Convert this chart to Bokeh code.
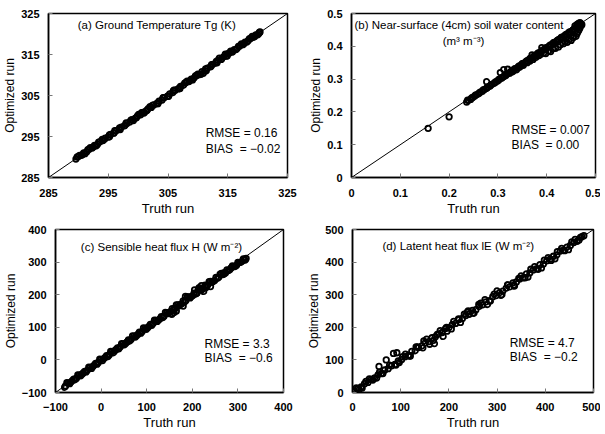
from bokeh.plotting import figure
from bokeh.layouts import column, row
from bokeh.models import Range1d, FixedTicker, CustomJSTickFormatter, Label
from bokeh.embed import file_html
from bokeh.resources import INLINE

FONT = "Liberation Sans"

# ---------------- data ----------------
# (a) Ground temperature Tg (K)
ticks_a = [285, 295, 305, 315, 325]
diag_a = [285, 325]
truth_a = [289.6, 290.0, 290.5, 290.9, 291.4, 291.8, 292.3, 292.7, 293.2, 293.6, 294.1, 294.5,
           295.0, 295.4, 295.9, 296.3, 296.8, 297.2, 297.7, 298.1, 298.6, 299.0, 299.5, 299.9,
           300.4, 300.8, 301.3, 301.7, 302.2, 302.6, 303.1, 303.5, 304.0, 304.4, 304.9, 305.3,
           305.8, 306.2, 306.7, 307.1, 307.6, 308.0, 308.5, 308.9, 309.4, 309.8, 310.3, 310.7,
           311.2, 311.6, 312.1, 312.5, 313.0, 313.4, 313.9, 314.3, 314.8, 315.2, 315.7, 316.1,
           316.6, 317.0, 317.5, 317.9, 318.4, 318.8, 319.3, 319.7, 320.2, 320.4,
           290.2, 291.1, 292.0, 293.0, 294.0, 295.2, 296.1, 297.0, 298.0, 299.2, 300.1, 301.0,
           302.0, 303.3, 304.2, 305.1, 306.0, 307.0, 308.2, 309.1, 310.0, 310.9, 311.4, 312.3,
           313.2, 313.6, 314.6, 314.9, 315.5, 316.4, 317.3, 318.2, 319.1, 320.0,
           289.8, 290.7, 291.6, 292.5, 293.4, 294.3, 295.2, 296.0, 296.9, 297.8, 298.8, 299.7,
           300.6, 301.5, 302.4, 303.3, 304.2, 305.0, 305.9, 306.9, 307.8, 308.7, 309.6, 310.5,
           311.3, 312.2, 313.1, 314.0, 314.9, 315.8, 316.8, 317.7, 318.6, 319.5, 320.3]
opt_a = [289.5, 290.1, 290.4, 291.0, 291.3, 291.9, 292.2, 292.8, 293.1, 293.7, 294.0, 294.6,
         294.9, 295.5, 295.8, 296.4, 296.7, 297.3, 297.6, 298.2, 298.5, 299.1, 299.4, 300.0,
         300.3, 300.9, 301.2, 301.8, 302.1, 302.7, 303.0, 303.6, 303.9, 304.5, 304.8, 305.4,
         305.7, 306.3, 306.6, 307.2, 307.5, 308.2, 308.4, 309.0, 309.3, 309.9, 310.1, 310.8,
         311.0, 311.7, 312.0, 312.6, 312.9, 313.6, 313.8, 314.4, 314.7, 315.3, 315.6, 316.2,
         316.5, 317.1, 317.4, 318.0, 318.3, 318.9, 319.2, 319.8, 320.1, 320.5,
         290.4, 290.8, 292.3, 292.7, 294.3, 294.9, 296.4, 296.7, 298.3, 298.9, 300.4, 300.7,
         302.3, 303.0, 304.5, 304.8, 306.3, 306.7, 308.5, 308.8, 310.2, 310.4, 311.0, 312.5,
         313.0, 314.1, 315.1, 314.6, 315.8, 316.2, 317.6, 318.0, 319.4, 319.8,
         290.0, 290.6, 291.8, 292.4, 293.6, 294.2, 295.4, 295.9, 297.1, 297.7, 299.0, 299.6,
         300.8, 301.4, 302.6, 303.2, 304.4, 304.9, 306.1, 306.8, 308.0, 308.6, 309.8, 310.2,
         311.5, 312.1, 313.3, 314.0, 315.1, 315.7, 317.0, 317.6, 318.8, 319.4, 320.4]

# (b) Near-surface soil water content (m3 m-3)
ticks_b = [0, 0.1, 0.2, 0.3, 0.4, 0.5]
diag_b = [0, 0.5]
truth_b = [0.236, 0.240, 0.244, 0.248, 0.252, 0.256, 0.260, 0.264, 0.268, 0.272, 0.276, 0.280,
           0.284, 0.288, 0.292, 0.296, 0.300, 0.304, 0.308, 0.312, 0.316, 0.320, 0.324, 0.328,
           0.332, 0.336, 0.340, 0.344, 0.348, 0.352, 0.356, 0.360, 0.364, 0.368, 0.372, 0.376,
           0.380, 0.384, 0.388, 0.392, 0.396, 0.400, 0.404, 0.408, 0.412, 0.416, 0.420, 0.424,
           0.428, 0.432, 0.436, 0.440, 0.444, 0.448, 0.452, 0.456, 0.460, 0.464, 0.468,
           0.330, 0.338, 0.345, 0.352, 0.360, 0.366, 0.372, 0.378, 0.384, 0.388, 0.394, 0.398,
           0.404, 0.408, 0.412, 0.418, 0.424, 0.428, 0.434, 0.438, 0.442, 0.446, 0.450, 0.454,
           0.456, 0.460, 0.462, 0.464, 0.466, 0.468, 0.470, 0.470, 0.466, 0.462, 0.458,
           0.238, 0.246, 0.254, 0.262, 0.270, 0.278, 0.286, 0.294, 0.302, 0.310, 0.318, 0.326,
           0.334, 0.342, 0.350, 0.358, 0.366, 0.374, 0.382, 0.390, 0.398, 0.406, 0.414, 0.422,
           0.430, 0.438, 0.446, 0.454, 0.462, 0.470, 0.468, 0.472, 0.464,
           0.305, 0.312, 0.320, 0.370, 0.390,
           0.157, 0.200, 0.277]
opt_b = [0.230, 0.235, 0.238, 0.244, 0.247, 0.252, 0.255, 0.260, 0.263, 0.268, 0.271, 0.276,
         0.279, 0.284, 0.287, 0.292, 0.295, 0.300, 0.303, 0.308, 0.311, 0.316, 0.318, 0.324,
         0.327, 0.332, 0.334, 0.340, 0.343, 0.348, 0.350, 0.356, 0.359, 0.364, 0.366, 0.372,
         0.375, 0.380, 0.383, 0.388, 0.391, 0.396, 0.399, 0.404, 0.407, 0.412, 0.415, 0.420,
         0.423, 0.428, 0.431, 0.436, 0.439, 0.444, 0.447, 0.452, 0.456, 0.461, 0.466,
         0.322, 0.328, 0.336, 0.342, 0.350, 0.355, 0.360, 0.366, 0.372, 0.375, 0.380, 0.378,
         0.386, 0.384, 0.392, 0.394, 0.398, 0.405, 0.408, 0.414, 0.412, 0.420, 0.418, 0.426,
         0.432, 0.430, 0.438, 0.444, 0.450, 0.456, 0.462, 0.468, 0.470, 0.466, 0.462,
         0.236, 0.242, 0.251, 0.258, 0.267, 0.274, 0.283, 0.290, 0.299, 0.306, 0.315, 0.322,
         0.331, 0.338, 0.347, 0.354, 0.363, 0.370, 0.379, 0.386, 0.395, 0.402, 0.411, 0.418,
         0.427, 0.434, 0.443, 0.450, 0.460, 0.470, 0.472, 0.466, 0.468,
         0.320, 0.329, 0.330, 0.374, 0.396,
         0.150, 0.185, 0.292]

# (c) Sensible heat flux H (W m-2)
ticks_c = [-100, 0, 100, 200, 300, 400]
diag_c = [-100, 400]
truth_c = [-78, -72, -66, -60, -54, -48, -42, -36, -30, -24, -18, -12, -6, 0, 6, 12, 18, 24,
           30, 36, 42, 48, 54, 60, 66, 72, 78, 84, 90, 96, 102, 108, 114, 120, 126, 132, 138,
           144, 150, 156, 162, 168, 174, 180, 186, 192, 198, 204, 210, 216, 222, 228, 234, 240,
           246, 252, 258, 264, 270, 276, 282, 288, 294, 300, 306, 312, 318,
           -75, -63, -51, -39, -27, -15, -3, 9, 21, 33, 45, 57, 69, 81, 93, 105, 117, 129, 141,
           153, 165, 177, 189, 201, 213, 225, 237, 249, 261, 273, 285, 297, 309, 316,
           -80, -69, -57, -45, -33, -21, -9, 3, 15, 27, 39, 51, 63, 75, 87, 99, 111, 123, 135,
           147, 159, 171, 183, 195, 207, 219, 231, 243, 255, 267, 279, 291, 303, 314,
           155, 160, 165, 180, 205, 210, 215, 220, 225, 230, 240, 185, 270]
opt_c = [-80, -71, -68, -59, -56, -47, -44, -35, -32, -23, -20, -11, -8, 1, 4, 13, 16, 25,
         28, 37, 40, 49, 51, 61, 63, 73, 75, 85, 87, 97, 99, 109, 111, 121, 122, 133, 134,
         145, 146, 157, 158, 169, 170, 181, 182, 193, 194, 205, 205, 217, 217, 229, 229, 241,
         241, 253, 253, 265, 264, 276, 276, 288, 287, 299, 299, 310, 311,
         -70, -64, -46, -40, -22, -16, 2, 8, 26, 32, 50, 55, 74, 79, 98, 103, 122, 126, 146,
         149, 169, 172, 193, 197, 216, 219, 240, 243, 263, 267, 282, 290, 302, 306,
         -84, -73, -61, -49, -37, -26, -13, -2, 10, 22, 34, 46, 58, 70, 82, 94, 106, 118, 130,
         142, 153, 166, 178, 190, 202, 214, 226, 238, 250, 262, 274, 286, 298, 308,
         140, 145, 150, 165, 215, 205, 222, 228, 210, 222, 225, 195, 268]

# (d) Latent heat flux lE (W m-2)
ticks_d = [0, 100, 200, 300, 400, 500]
diag_d = [0, 500]
truth_d = [4, 11, 18, 25, 32, 39, 46, 53, 60, 67, 74, 81, 88, 95, 102, 109, 116, 123, 130, 137,
           144, 151, 158, 165, 172, 179, 186, 193, 200, 207, 214, 221, 228, 235, 242, 249, 256,
           263, 270, 277, 284, 291, 298, 305, 312, 319, 326, 333, 340, 347, 354, 361, 368, 375,
           382, 389, 396, 403, 410, 417, 424, 431, 438, 445, 452, 459, 466, 473, 480,
           8, 20, 35, 50, 55, 70, 85, 92, 97, 110, 120, 135, 148, 160, 170, 176, 188, 195, 205,
           220, 232, 240, 250, 262, 275, 286, 300, 310, 322, 335, 345, 358, 370, 385, 398, 412,
           425, 440, 455, 470,
           2, 14, 28, 42, 56, 63, 77, 90, 104, 118, 132, 146, 154, 168, 182, 196, 210, 224, 238,
           252, 266, 280, 294, 308, 322, 336, 350, 364, 378, 392, 406, 420, 434, 448, 462, 476]
opt_d = [2, 12, 17, 27, 31, 40, 45, 54, 58, 69, 73, 82, 86, 97, 101, 110, 114, 126, 128, 138,
         143, 152, 156, 168, 171, 180, 184, 196, 199, 208, 212, 224, 227, 236, 240, 252, 254,
         264, 269, 278, 282, 294, 297, 306, 311, 320, 324, 336, 339, 348, 352, 364, 367, 376,
         380, 392, 394, 404, 409, 418, 422, 434, 437, 446, 451, 460, 464, 476, 481,
         14, 14, 42, 44, 80, 100, 120, 122, 92, 118, 112, 140, 158, 148, 150, 178, 172, 200,
         195, 226, 240, 250, 244, 270, 285, 280, 312, 300, 330, 330, 350, 352, 378, 378, 406,
         405, 432, 435, 462, 468,
         6, 9, 34, 38, 62, 58, 84, 84, 110, 112, 140, 137, 164, 160, 190, 188, 218, 215, 246,
         243, 274, 270, 302, 298, 330, 326, 358, 354, 386, 382, 414, 410, 442, 438, 470, 478]

titles = ["(a) Ground Temperature Tg (K)",
          "(b) Near-surface (4cm) soil water content",
          "(c) Sensible heat flux H (W m\u207b\u00b2)",
          "(d) Latent heat flux lE (W m\u207b\u00b2)"]
subtitle_b = "(m\u00b3 m\u207b\u00b3)"
rmse_texts = ["RMSE = 0.16", "RMSE = 0.007", "RMSE = 3.3", "RMSE = 4.7"]
bias_texts = ["BIAS\u00a0 = \u22120.02", "BIAS\u00a0 = 0.00", "BIAS\u00a0 = \u22120.6", "BIAS\u00a0 = \u22120.2"]

fmt_code = """
const v = Math.round(tick * 1000) / 1000;
return v < 0 ? "\\u2212" + String(-v) : String(v);
"""


def make_panel(diag, ticks, xs, ys, width, height, borders, title_pos, title,
               rmse_pos, bias_pos, rmse, bias, label_standoff, extra=None):
    bl, br, bt, bb = borders
    p = figure(width=width, height=height,
               x_range=Range1d(diag[0], diag[1]), y_range=Range1d(diag[0], diag[1]),
               output_backend="svg", toolbar_location=None,
               min_border_left=bl, min_border_right=br,
               min_border_top=bt, min_border_bottom=bb,
               background_fill_color="white", border_fill_color="white")
    p.xgrid.visible = False
    p.ygrid.visible = False
    p.outline_line_color = "black"
    p.outline_line_width = 1.5
    p.outline_line_alpha = 1.0
    for ax in (p.xaxis[0], p.yaxis[0]):
        ax.ticker = FixedTicker(ticks=ticks)
        ax.formatter = CustomJSTickFormatter(code=fmt_code)
        ax.axis_line_color = "black"
        ax.axis_line_width = 1.5
        ax.major_tick_in = 4
        ax.major_tick_out = 0
        ax.major_tick_line_color = "#777777"
        ax.major_tick_line_width = 1
        ax.minor_tick_line_color = None
        ax.major_label_text_font = FONT
        ax.major_label_text_font_size = "11px"
        ax.major_label_text_font_style = "bold"
        ax.major_label_text_color = "black"
        ax.axis_label_text_font = FONT
        ax.axis_label_text_font_style = "normal"
        ax.axis_label_text_color = "black"
        ax.axis_label_standoff = 1
    p.xaxis[0].axis_label = "Truth run"
    p.yaxis[0].axis_label = "Optimized run"
    p.xaxis[0].axis_label_text_font_size = "13px"
    p.yaxis[0].axis_label_text_font_size = "12px"
    p.xaxis[0].major_label_standoff = label_standoff
    p.yaxis[0].major_label_standoff = 9

    p.line(diag, diag, line_color="black", line_width=1)
    p.scatter(xs, ys, marker="circle", size=5.5, fill_color=None,
              line_color="black", line_width=1.8)

    def lab(x, y, text, size, align="left"):
        p.add_layout(Label(x=x, y=y, text=text, text_font=FONT, text_font_size=size,
                           text_color="black", text_align=align, text_baseline="middle"))

    lab(title_pos[0], title_pos[1], title, "11.5px")
    lab(rmse_pos[0], rmse_pos[1], rmse, "12px")
    lab(bias_pos[0], bias_pos[1], bias, "12px")
    if extra:
        lab(extra[0], extra[1], extra[2], "11.5px", "center")
    return p


pa = make_panel(diag_a, ticks_a, truth_a, opt_a, 303, 224, (48, 16, 13, 47),
                (289.9, 322.1), titles[0], (311.3, 295.8), (311.3, 292.0),
                rmse_texts[0], bias_texts[0], 11)
pb = make_panel(diag_b, ticks_b, truth_b, opt_b, 297, 224, (48, 5, 13, 47),
                (0.006, 0.464), titles[1], (0.328, 0.1455), (0.328, 0.100),
                rmse_texts[1], bias_texts[1], 11, extra=(0.2295, 0.415, subtitle_b))
pc = make_panel(diag_c, ticks_c, truth_c, opt_c, 303, 208, (49, 20, 5, 39),
                (-44.4, 345), titles[2], (227, 48), (227, 5),
                rmse_texts[2], bias_texts[2], 10)
pd = make_panel(diag_d, ticks_d, truth_d, opt_d, 297, 208, (49, 7, 5, 39),
                (62, 448), titles[3], (326, 152), (326, 110),
                rmse_texts[3], bias_texts[3], 10)

layout = column(row(pa, pb), row(pc, pd))

open("out.html", "w").write(file_html(layout, INLINE))
